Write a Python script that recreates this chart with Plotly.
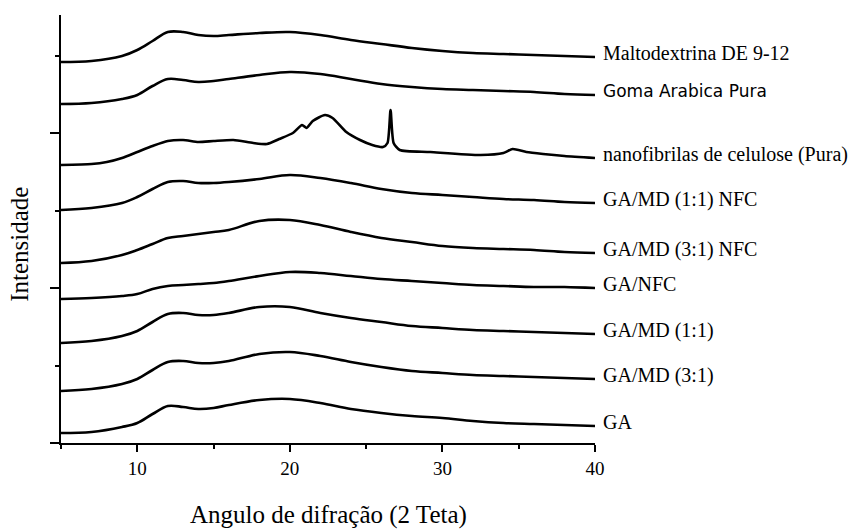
import plotly.graph_objects as go

# 2-theta grid shared by the broad amorphous patterns
two_theta = [5, 7, 9, 10, 11, 12, 13, 14, 15, 16, 18, 20, 22, 24, 26, 28, 30, 32, 34, 36, 38, 40]

# stacked intensities (a.u., each pattern offset for clarity)
maltodextrina = [381, 382, 387, 393, 402, 411, 411, 408, 407, 408, 410, 411, 408, 403, 399, 395, 392, 390, 389, 388, 387, 386]
goma_arabica = [339, 340, 344, 348, 357, 364, 363, 361, 362, 364, 368, 371, 369, 364, 359, 356, 354, 353, 352, 351, 349, 348]
ga_md_11_nfc = [233, 235, 240, 246, 254, 261, 262, 260, 260, 261, 264, 268, 265, 260, 254, 250, 248, 246, 244, 243, 241, 240]
ga_md_31_nfc = [180, 182, 188, 193, 199, 205, 207, 209, 211, 213, 222, 223, 218, 211, 205, 201, 197, 195, 194, 193, 191, 190]
ga_nfc = [144, 145, 147, 149, 154, 157, 158, 159, 160, 162, 167, 171, 170, 167, 164, 162, 160, 158, 157, 156, 156, 155]
ga_md_11 = [100, 102, 107, 112, 121, 129, 130, 128, 128, 130, 136, 136, 130, 125, 121, 117, 115, 113, 112, 111, 110, 109]
ga_md_31 = [52, 54, 59, 64, 73, 81, 82, 80, 80, 82, 89, 91, 87, 81, 76, 72, 70, 68, 67, 66, 65, 64]
ga = [10, 11, 16, 20, 29, 37, 36, 34, 35, 38, 43, 44, 40, 34, 30, 27, 25, 22, 20, 19, 18, 17]

# cellulose nanofibrils: crystalline reflections need a finer grid
nfc_theta = [5, 7, 8, 9, 10, 11, 12, 13, 14, 15, 16.3, 17.6, 18.5, 19.3, 20.2, 20.8, 21.1, 21.5,
             22.3, 22.8, 23.7, 24.6, 25.4, 26.1, 26.4, 26.6, 26.8, 27.2, 29.2, 32.5, 34, 34.6,
             35.5, 36.6, 38, 40]
nanofibrilas = [278, 279, 281, 285, 291, 297, 302, 303, 301, 302, 303, 300, 299, 304, 310, 318, 315, 322,
                328, 325, 311, 303, 298, 296, 300, 333, 300, 293, 291, 288, 290, 294,
                291, 289, 287, 285]

series_names = ["Maltodextrina DE 9-12", "Goma Arabica Pura", "nanofibrilas de celulose (Pura)",
                "GA/MD (1:1) NFC", "GA/MD (3:1) NFC", "GA/NFC", "GA/MD (1:1)", "GA/MD (3:1)", "GA"]

series = [
    (two_theta, maltodextrina),
    (two_theta, goma_arabica),
    (nfc_theta, nanofibrilas),
    (two_theta, ga_md_11_nfc),
    (two_theta, ga_md_31_nfc),
    (two_theta, ga_nfc),
    (two_theta, ga_md_11),
    (two_theta, ga_md_31),
    (two_theta, ga),
]

SERIF = "Liberation Serif"
SANS = "DejaVu Sans"

fig = go.Figure()
annotations = []
for name, (xs, ys) in zip(series_names, series):
    sharp = xs is nfc_theta
    fig.add_trace(go.Scatter(
        x=xs, y=ys, mode="lines", name=name, showlegend=False,
        line=dict(color="black", width=2.6, shape="spline", smoothing=0.6 if sharp else 1.0),
    ))
    sans = name == "Goma Arabica Pura"
    annotations.append(dict(
        x=xs[-1], y=ys[-1], xref="x", yref="y", text=name, showarrow=False,
        xanchor="left", yanchor="middle", xshift=6, yshift=4,
        font=dict(family=SANS if sans else SERIF, size=17 if sans else 20, color="black"),
    ))

annotations.append(dict(
    x=0.5, y=-0.168, xref="paper", yref="paper", text="Angulo de difração (2 Teta)",
    showarrow=False, xanchor="center", yanchor="middle",
    font=dict(family=SERIF, size=25, color="black"),
))
annotations.append(dict(
    x=-0.077, y=0.465, xref="paper", yref="paper", text="Intensidade", textangle=-90,
    showarrow=False, xanchor="center", yanchor="middle",
    font=dict(family=SERIF, size=25, color="black"),
))

fig.update_layout(
    width=854, height=529,
    margin=dict(l=61, r=259, t=15, b=86),
    paper_bgcolor="white", plot_bgcolor="white",
    annotations=annotations,
    # the bottom axis line runs a little past the left axis
    shapes=[dict(type="line", xref="paper", yref="paper", x0=-0.015, x1=0, y0=0, y1=0,
                 line=dict(color="black", width=2))],
    xaxis=dict(
        range=[5, 40], tick0=0, dtick=10, ticks="outside", ticklen=7, tickwidth=2,
        tickcolor="black", showline=True, linecolor="black", linewidth=2,
        showgrid=False, zeroline=False,
        tickfont=dict(family=SERIF, size=19, color="black"),
        minor=dict(tick0=0, dtick=5, ticks="outside", ticklen=4, tickwidth=2, tickcolor="black"),
    ),
    yaxis=dict(
        range=[0, 428], tick0=0, dtick=155, ticks="outside", ticklen=9, tickwidth=2,
        tickcolor="black", showline=True, linecolor="black", linewidth=2,
        showgrid=False, zeroline=False, showticklabels=False,
        minor=dict(tick0=0, dtick=77.5, ticks="outside", ticklen=4, tickwidth=2, tickcolor="black"),
    ),
)

fig.write_html("out.html")
